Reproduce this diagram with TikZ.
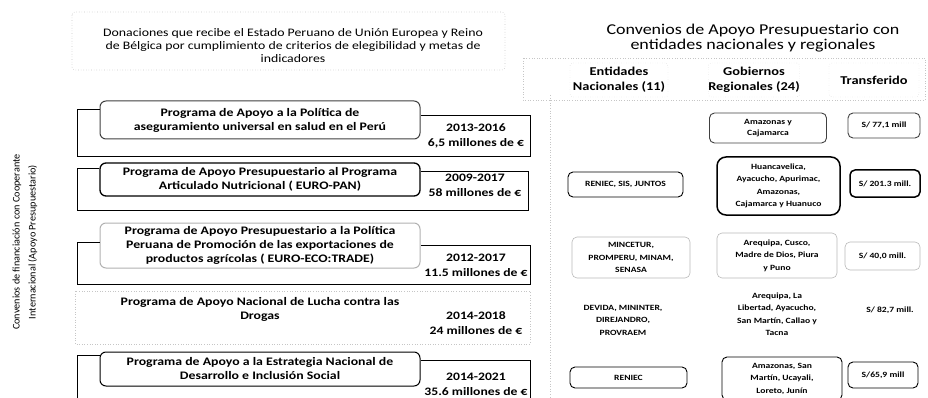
\documentclass[tikz,border=0pt]{standalone}
\usepackage{fontspec}
\setmainfont{Carlito}[FakeStretch=1.2]
\newfontfamily\sidefont{Carlito}
\begin{document}
\begin{tikzpicture}[x=1pt,y=-1pt,
  faint/.style={draw=gray!45, dotted, line width=0.6pt},
  frame/.style={draw=black, line width=0.8pt},
  prog/.style={draw, rounded corners=6pt, line width=1pt, fill=white, minimum width=320pt,
    align=center, inner sep=0pt, font=\bfseries\fontsize{11.5}{14}\selectfont},
  progtext/.style={align=center, inner sep=0pt, font=\bfseries\fontsize{11.5}{14}\selectfont},
  years/.style={align=center, inner sep=0pt, font=\bfseries\fontsize{11.4}{15}\selectfont},
  ttl/.style={align=center, inner sep=0pt, font=\fontsize{11.5}{13}\selectfont},
  rttl/.style={align=center, inner sep=0pt, font=\fontsize{15}{15}\selectfont},
  hdr/.style={align=center, inner sep=0pt, rounded corners=3pt, draw=gray!45, dotted,
    font=\bfseries\fontsize{12}{15}\selectfont},
  cell/.style={align=center, inner sep=0pt, rounded corners=5pt, draw, line width=0.9pt,
    font=\bfseries\fontsize{8}{12.5}\selectfont},
  celltext/.style={align=center, inner sep=0pt, font=\bfseries\fontsize{8}{12.5}\selectfont},
  light/.style={draw=gray!55, line width=0.6pt}]
\useasboundingbox (0,0) rectangle (928,398);
\clip (0,0) rectangle (928,398);

% side label
\node[rotate=90, align=center, inner sep=0pt, font=\sidefont\fontsize{10.2}{16}\selectfont] (side) at (25,242)
  {Convenios de financiación con Cooperante\\Internacional (Apoyo Presupuestario)};

% left title
\draw[faint, rounded corners=3pt] (72,12) rectangle (505,70);
\node[ttl] (ltitle) at (293,46) {Donaciones que recibe el Estado Peruano de Unión Europea y Reino\\de Bélgica por cumplimiento de criterios de elegibilidad y metas de\\indicadores};

% program 1
\node[prog, minimum height=38pt, draw=black!75] (p1) at (260,120) {Programa de Apoyo a la Política de\\aseguramiento universal en salud en el Perú};
\draw[frame] (p1.west |- 0,109) -- (77,109) -- (77,156) -- (530,156) -- (530,115) -- (p1.east |- 0,115);
\node[years] (y1) at (476,135.5) {2013-2016\\6,5 millones de €};

% program 2
\node[prog, minimum height=33pt, line width=1.3pt] (p2) at (260,179.5) {Programa de Apoyo Presupuestario al Programa\\Articulado Nutricional ( EURO-PAN)};
\draw[frame] (p2.west |- 0,168) -- (77,168) -- (77,210) -- (528,210) -- (528,171) -- (p2.east |- 0,171);
\node[years] (y2) at (475,185) {2009-2017\\58 millones de €};

% program 3
\node[prog, minimum height=45pt, draw=gray!60] (p3) at (260,245.5) {Programa de Apoyo Presupuestario a la Política\\Peruana de Promoción de las exportaciones de\\productos agrícolas ( EURO-ECO:TRADE)};
\draw[frame] (p3.west |- 0,242) -- (77,242) -- (77,284) -- (530,284) -- (530,245) -- (p3.east |- 0,245);
\node[years] (y3) at (476,265.5) {2012-2017\\11.5 millones de €};

% program 4
\draw[faint] (75,291) rectangle (530,344);
\node[progtext] (p4) at (260,309.5) {Programa de Apoyo Nacional de Lucha contra las\\Drogas};
\node[years] (y4) at (476,323.5) {2014-2018\\24 millones de €};

% program 5
\node[prog, minimum height=34pt] (p5) at (260,369) {Programa de Apoyo a la Estrategia Nacional de\\Desarrollo e Inclusión Social};
\draw[frame] (p5.west |- 0,355) -- (77,355) -- (77,400);
\draw[frame] (p5.east |- 0,360) -- (530,360) -- (530,400);
\node[years] (y5) at (476,384) {2014-2021\\35.6 millones de €};

% separator
\draw[faint] (550,95) -- (550,398);

% right title
\node[rttl] (rtitle) at (753,38.5) {Convenios de Apoyo Presupuestario con\\entidades nacionales y regionales};
\draw[faint] (523,58) rectangle (925,100);

% headers
\node[hdr, minimum width=98pt, minimum height=34pt] (h1) at (619,80) {Entidades\\Nacionales (11)};
\node[hdr, minimum width=85pt, minimum height=34pt] (h2) at (754,80) {Gobiernos\\Regionales (24)};
\node[hdr, minimum width=90pt, minimum height=34pt] (h3) at (874,80) {Transferido};

% row 1
\node[cell, draw=black!75, minimum width=117pt, minimum height=30pt, font=\bfseries\fontsize{8}{11}\selectfont] (g1) at (768,128) {Amazonas y\\Cajamarca};
\node[cell, draw=black!75, minimum width=72pt, minimum height=25pt] (t1) at (884,125.5) {S/ 77,1 mill};

% row 2
\node[cell, minimum width=115pt, minimum height=25pt] (e2) at (625.5,184.5) {RENIEC, SIS, JUNTOS};
\node[cell, line width=1.5pt, rounded corners=9pt, minimum width=123pt, minimum height=58pt] (g2) at (778.5,186) {Huancavelica,\\Ayacucho, Apurimac,\\Amazonas,\\Cajamarca y Huanuco};
\node[cell, line width=1.5pt, minimum width=70pt, minimum height=27pt] (t2) at (885,183.5) {S/ 201.3 mill.};

% row 3
\node[cell, light, minimum width=118pt, minimum height=41pt] (e3) at (631,257.5) {MINCETUR,\\PROMPERU, MINAM,\\SENASA};
\node[cell, light, minimum width=120pt, minimum height=45pt] (g3) at (777,255.5) {Arequipa, Cusco,\\Madre de Dios, Piura\\y Puno};
\node[cell, light, minimum width=75pt, minimum height=28pt] (t3) at (882.5,256) {S/ 40,0 mill.};

% row 4
\node[celltext] (e4) at (623,320) {DEVIDA, MININTER,\\DIREJANDRO,\\PROVRAEM};
\node[celltext] (g4) at (777,314) {Arequipa, La\\Libertad, Ayacucho,\\San Martín, Callao y\\Tacna};
\node[celltext] (t4) at (890,310) {S/ 82,7 mill.};

% row 5
\node[cell, minimum width=117pt, minimum height=21pt] (e5) at (628.5,377.5) {RENIEC};
\node[cell, minimum width=120pt, minimum height=43pt] (g5) at (782,378.5) {Amazonas, San\\Martín, Ucayali,\\Loreto, Junín};
\node[cell, minimum width=70pt, minimum height=26pt] (t5) at (883,375) {S/65,9 mill};
\end{tikzpicture}
\end{document}
